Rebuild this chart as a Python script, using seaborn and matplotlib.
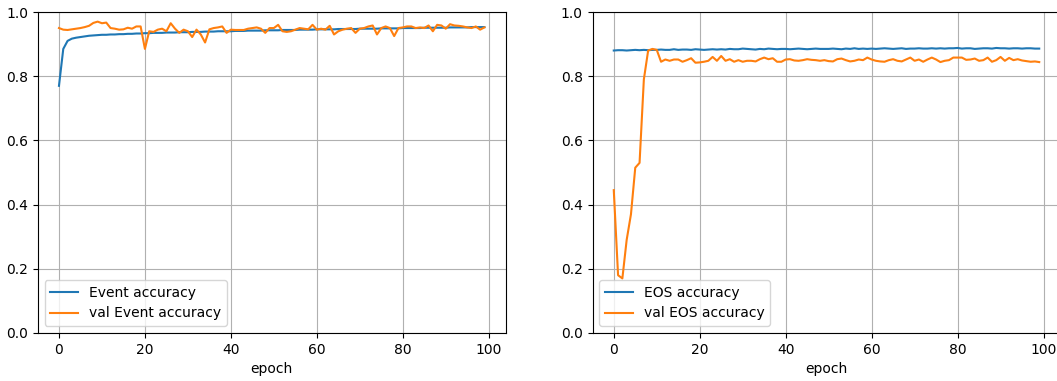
import numpy as np
import pandas as pd
import matplotlib
matplotlib.use("Agg")
import matplotlib.pyplot as plt
import seaborn as sns

epochs = list(range(100))

event_acc = [0.770, 0.885, 0.910, 0.917, 0.920, 0.922, 0.924, 0.926, 0.927, 0.928,
             0.929, 0.929, 0.930, 0.930, 0.931, 0.931, 0.932, 0.932, 0.933, 0.933,
             0.934, 0.934, 0.935, 0.935, 0.935, 0.936, 0.936, 0.936, 0.937, 0.937,
             0.937, 0.938, 0.938, 0.938, 0.939, 0.939, 0.939, 0.940, 0.940, 0.940,
             0.940, 0.941, 0.941, 0.941, 0.942, 0.942, 0.942, 0.942, 0.943, 0.943,
             0.943, 0.943, 0.944, 0.944, 0.944, 0.944, 0.945, 0.945, 0.945, 0.945,
             0.946, 0.946, 0.946, 0.946, 0.946, 0.947, 0.947, 0.947, 0.947, 0.947,
             0.948, 0.948, 0.948, 0.948, 0.948, 0.949, 0.949, 0.949, 0.949, 0.949,
             0.950, 0.950, 0.950, 0.950, 0.950, 0.951, 0.951, 0.951, 0.951, 0.951,
             0.951, 0.952, 0.952, 0.952, 0.952, 0.952, 0.953, 0.953, 0.953, 0.953]

val_event_acc = [0.950, 0.945, 0.944, 0.946, 0.948, 0.950, 0.953, 0.957, 0.966, 0.970,
                 0.965, 0.967, 0.950, 0.948, 0.945, 0.946, 0.951, 0.948, 0.955, 0.955,
                 0.885, 0.940, 0.938, 0.945, 0.948, 0.940, 0.965, 0.948, 0.935, 0.945,
                 0.940, 0.922, 0.945, 0.930, 0.905, 0.946, 0.950, 0.952, 0.955, 0.935,
                 0.945, 0.944, 0.944, 0.944, 0.948, 0.950, 0.952, 0.948, 0.935, 0.950,
                 0.950, 0.960, 0.940, 0.938, 0.940, 0.945, 0.950, 0.948, 0.946, 0.960,
                 0.945, 0.948, 0.945, 0.957, 0.930, 0.940, 0.945, 0.948, 0.950, 0.935,
                 0.948, 0.950, 0.955, 0.958, 0.930, 0.950, 0.955, 0.950, 0.925, 0.950,
                 0.952, 0.955, 0.955, 0.950, 0.952, 0.950, 0.958, 0.940, 0.960, 0.958,
                 0.948, 0.962, 0.958, 0.957, 0.955, 0.952, 0.950, 0.955, 0.945, 0.952]

eos_acc = [0.880, 0.881, 0.881, 0.880, 0.881, 0.882, 0.881, 0.882, 0.881, 0.882,
           0.882, 0.883, 0.882, 0.882, 0.884, 0.882, 0.883, 0.883, 0.882, 0.884,
           0.883, 0.882, 0.883, 0.884, 0.883, 0.884, 0.883, 0.885, 0.884, 0.884,
           0.886, 0.885, 0.884, 0.883, 0.885, 0.884, 0.886, 0.885, 0.884, 0.885,
           0.885, 0.884, 0.885, 0.886, 0.885, 0.884, 0.885, 0.886, 0.885, 0.885,
           0.885, 0.886, 0.885, 0.884, 0.886, 0.885, 0.887, 0.885, 0.886, 0.885,
           0.886, 0.885, 0.886, 0.887, 0.886, 0.885, 0.886, 0.887, 0.885, 0.886,
           0.886, 0.887, 0.886, 0.886, 0.887, 0.886, 0.887, 0.886, 0.887, 0.887,
           0.888, 0.886, 0.887, 0.887, 0.885, 0.886, 0.887, 0.887, 0.886, 0.888,
           0.887, 0.887, 0.886, 0.887, 0.887, 0.886, 0.887, 0.887, 0.886, 0.886]

val_eos_acc = [0.445, 0.180, 0.170, 0.290, 0.370, 0.515, 0.530, 0.790, 0.880, 0.885,
               0.882, 0.845, 0.852, 0.848, 0.852, 0.852, 0.845, 0.850, 0.856, 0.842,
               0.843, 0.845, 0.848, 0.860, 0.848, 0.863, 0.848, 0.853, 0.845, 0.850,
               0.845, 0.848, 0.848, 0.846, 0.853, 0.858, 0.853, 0.856, 0.845, 0.845,
               0.852, 0.853, 0.849, 0.848, 0.850, 0.853, 0.851, 0.850, 0.848, 0.850,
               0.847, 0.846, 0.853, 0.855, 0.850, 0.846, 0.848, 0.852, 0.850, 0.858,
               0.852, 0.848, 0.846, 0.845, 0.850, 0.853, 0.848, 0.846, 0.852, 0.858,
               0.848, 0.852, 0.845, 0.852, 0.858, 0.852, 0.844, 0.848, 0.850, 0.858,
               0.858, 0.858, 0.851, 0.852, 0.855, 0.848, 0.850, 0.858, 0.845, 0.850,
               0.860, 0.848, 0.857, 0.850, 0.853, 0.849, 0.847, 0.845, 0.846, 0.844]

left_labels = ["Event accuracy", "val Event accuracy"]
right_labels = ["EOS accuracy", "val EOS accuracy"]
colors = ["#1f77b4", "#ff7f0e"]
yticks = [0.0, 0.2, 0.4, 0.6, 0.8, 1.0]

W, H = 1057, 381
fig = plt.figure(figsize=(W / 100, H / 100), dpi=100)
ax1 = fig.add_axes([37.7 / W, 1 - 333 / H, 468 / W, 321 / H])
ax2 = fig.add_axes([592.5 / W, 1 - 333 / H, 468 / W, 321 / H])

for ax, series, labels in [(ax1, [event_acc, val_event_acc], left_labels),
                           (ax2, [eos_acc, val_eos_acc], right_labels)]:
    for s, lab, c in zip(series, labels, colors):
        sns.lineplot(x=epochs, y=s, ax=ax, label=lab, color=c, linewidth=1.5)
    ax.set_ylim(0, 1.0)
    ax.set_yticks(yticks)
    ax.set_xlim(-4.95, 103.95)
    ax.set_xticks([0, 20, 40, 60, 80, 100])
    ax.grid(True, color="#b0b0b0", linewidth=0.8)
    ax.set_xlabel("epoch")
    ax.set_ylabel("")
    ax.legend(loc="lower left")

fig.savefig("out.png", dpi=100)
